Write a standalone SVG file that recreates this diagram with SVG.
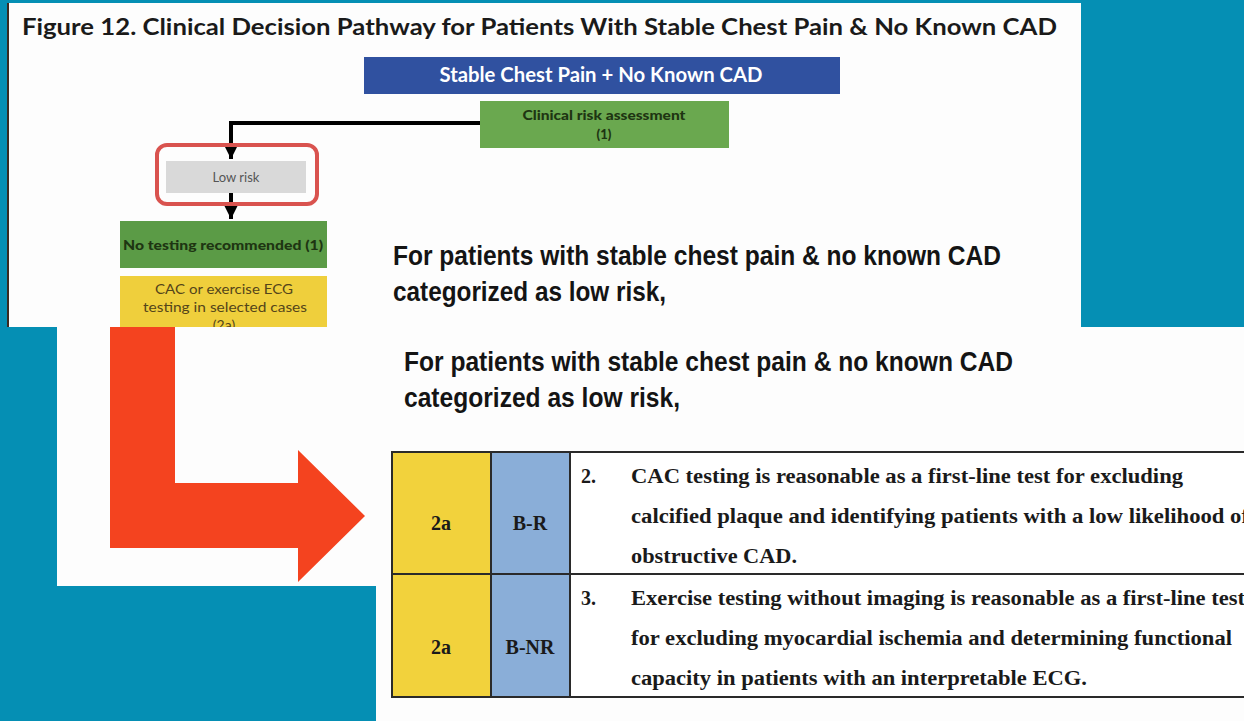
<svg xmlns="http://www.w3.org/2000/svg" width="1244" height="721" viewBox="0 0 1244 721">
<defs>
<style>
.cal{font-family:Lato,"Open Sans","Liberation Sans",sans-serif;}
.ar{font-family:"Liberation Sans",Arial,sans-serif;font-weight:bold;fill:#141414;font-size:27px;}
.tm{font-family:"Liberation Serif","Times New Roman",serif;font-weight:bold;fill:#1a1a1a;font-size:20px;}
.conn{stroke:#000;stroke-width:4;fill:none;}
</style>
<marker id="ah" viewBox="0 0 10 10" refX="10" refY="5" markerWidth="3.6" markerHeight="3.6" markerUnits="strokeWidth" orient="auto">
<path d="M0,0 L10,5 L0,10 z" fill="#000"/>
</marker>
</defs>
<rect x="0" y="0" width="1244" height="721" fill="#058fb4"/>
<g id="top-panel">
<rect x="8" y="3" width="1073" height="324" fill="#fdfdfd"/>
<rect x="7" y="3" width="2" height="324" fill="#3a2a20"/>
<text class="cal" x="22" y="35" font-size="23" font-weight="bold" fill="#1a1a1a" textLength="1035" lengthAdjust="spacingAndGlyphs">Figure 12. Clinical Decision Pathway for Patients With Stable Chest Pain &amp; No Known CAD</text>
</g>
<g id="connectors">
<path class="conn" d="M480,123 H231 V159" marker-end="url(#ah)"/>
<path class="conn" d="M231,193 V219" marker-end="url(#ah)"/>
</g>
<g id="node-start">
<rect x="364" y="57" width="476" height="37" fill="#3051a0"/>
<text class="cal" x="601" y="82" font-size="20" font-weight="bold" fill="#fff" text-anchor="middle" textLength="323" lengthAdjust="spacingAndGlyphs">Stable Chest Pain + No Known CAD</text>
</g>
<g id="node-clinical">
<rect x="480" y="101" width="249" height="47" fill="#6aa84f"/>
<text class="cal" x="604" y="120" font-size="13" font-weight="900" fill="#1e3512" text-anchor="middle" textLength="163" lengthAdjust="spacingAndGlyphs">Clinical risk assessment</text>
<text class="cal" x="604" y="139" font-size="13" font-weight="900" fill="#1e3512" text-anchor="middle">(1)</text>
</g>
<g id="node-lowrisk">
<rect x="157" y="145" width="160" height="59" rx="10" fill="none" stroke="#d9534f" stroke-width="4"/>
<rect x="166" y="161" width="140" height="32" fill="#d9d9d9"/>
<text class="cal" x="236" y="182" font-size="13" fill="#555" text-anchor="middle">Low risk</text>
</g>
<g id="node-notesting">
<rect x="120" y="221" width="207" height="47" fill="#5b9b46"/>
<text class="cal" x="223" y="250" font-size="14" font-weight="900" fill="#1e3512" text-anchor="middle" textLength="200" lengthAdjust="spacingAndGlyphs">No testing recommended (1)</text>
</g>
<g id="node-cac">
<rect x="120" y="276" width="207" height="55" fill="#efcf3c"/>
<text class="cal" x="224" y="294" font-size="14" fill="#54451a" text-anchor="middle" textLength="138" lengthAdjust="spacingAndGlyphs">CAC or exercise ECG</text>
<text class="cal" x="225" y="312" font-size="14" fill="#54451a" text-anchor="middle" textLength="164" lengthAdjust="spacingAndGlyphs">testing in selected cases</text>
<text class="cal" x="224" y="330" font-size="14" fill="#54451a" text-anchor="middle">(2a)</text>
</g>
<g id="top-caption">
<text class="ar" x="393" y="265" textLength="608" lengthAdjust="spacingAndGlyphs">For patients with stable chest pain &amp; no known CAD</text>
<text class="ar" x="393" y="301" textLength="273" lengthAdjust="spacingAndGlyphs">categorized as low risk,</text>
</g>
<g id="lower-panel">
<path d="M57,327 H1244 V721 H376 V586 H57 Z" fill="#fdfdfd"/>
<path id="red-arrow" d="M110,327 H175 V483 H298 V450 L365,516 L298,582 V548 H110 Z" fill="#f4431f"/>
<text class="ar" x="404" y="371" textLength="609" lengthAdjust="spacingAndGlyphs">For patients with stable chest pain &amp; no known CAD</text>
<text class="ar" x="404" y="407" textLength="276" lengthAdjust="spacingAndGlyphs">categorized as low risk,</text>
</g>
<g id="table">
<rect x="391" y="452" width="100" height="245" fill="#f2d23c"/>
<rect x="491" y="452" width="79" height="245" fill="#8aaed8"/>
<rect x="570" y="452" width="680" height="245" fill="#fff"/>
<g stroke="#2a2a2a" stroke-width="2" fill="none">
<path d="M391,452 H1246 M391,574 H1246 M391,697 H1246 M392,452 V697 M491,452 V697 M570,452 V697"/>
</g>
<text class="tm" x="441" y="530" text-anchor="middle">2a</text>
<text class="tm" x="530" y="530" text-anchor="middle">B-R</text>
<text class="tm" x="441" y="654" text-anchor="middle">2a</text>
<text class="tm" x="530" y="654" text-anchor="middle">B-NR</text>
<text class="tm" x="581" y="483">2.</text>
<text class="tm" x="631" y="483" textLength="552" lengthAdjust="spacingAndGlyphs">CAC testing is reasonable as a first-line test for excluding</text>
<text class="tm" x="631" y="523" textLength="618" lengthAdjust="spacingAndGlyphs">calcified plaque and identifying patients with a low likelihood of</text>
<text class="tm" x="631" y="563" textLength="166" lengthAdjust="spacingAndGlyphs">obstructive CAD.</text>
<text class="tm" x="581" y="605">3.</text>
<text class="tm" x="631" y="605" textLength="614" lengthAdjust="spacingAndGlyphs">Exercise testing without imaging is reasonable as a first-line test</text>
<text class="tm" x="631" y="645" textLength="601" lengthAdjust="spacingAndGlyphs">for excluding myocardial ischemia and determining functional</text>
<text class="tm" x="631" y="685" textLength="456" lengthAdjust="spacingAndGlyphs">capacity in patients with an interpretable ECG.</text>
</g>
</svg>
